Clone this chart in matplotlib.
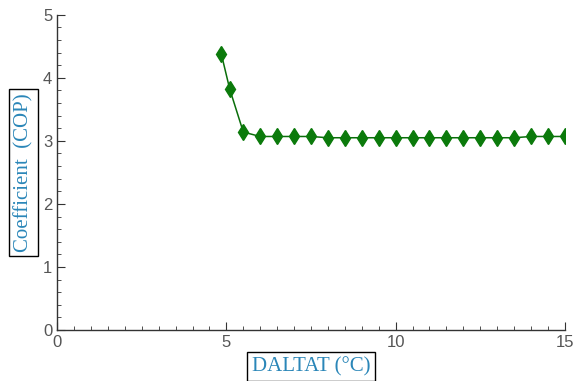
import matplotlib
matplotlib.use('Agg')
import matplotlib.pyplot as plt
from matplotlib.ticker import MultipleLocator

# 数据
daltat = [4.85, 5.1, 5.5, 6.0, 6.5, 7.0, 7.5, 8.0, 8.5, 9.0, 9.5, 10.0, 10.5,
          11.0, 11.5, 12.0, 12.5, 13.0, 13.5, 14.0, 14.5, 15.0]
cop = [4.38, 3.82, 3.14, 3.07, 3.07, 3.07, 3.07, 3.05, 3.05, 3.05, 3.05, 3.05, 3.05,
       3.05, 3.05, 3.05, 3.05, 3.05, 3.05, 3.07, 3.07, 3.07]

fig = plt.figure(figsize=(5.77, 3.81), dpi=100)
ax = fig.add_axes([0.099, 0.134, 0.880, 0.827])

ax.plot(daltat, cop, color='#0a6e0a', lw=1.1, marker='d', markersize=8,
        markerfacecolor='#0b7a0b', markeredgecolor='#0b7a0b')

ax.set_xlim(0, 15)
ax.set_ylim(0, 5)
ax.xaxis.set_major_locator(MultipleLocator(5))
ax.xaxis.set_minor_locator(MultipleLocator(0.5))
ax.yaxis.set_major_locator(MultipleLocator(1))
ax.yaxis.set_minor_locator(MultipleLocator(0.2))

for s in ['top', 'right']:
    ax.spines[s].set_visible(False)
for s in ['left', 'bottom']:
    ax.spines[s].set_color('#333333')
    ax.spines[s].set_linewidth(1.0)

ax.tick_params(which='both', direction='in', colors='#333333', labelcolor='#555555',
               labelsize=12)
ax.tick_params(which='major', length=6)
ax.tick_params(which='minor', length=3)
for lab in ax.get_xticklabels() + ax.get_yticklabels():
    lab.set_fontfamily('Liberation Sans')

box = dict(boxstyle='square,pad=0.22', facecolor='white', edgecolor='black', lw=1)
ax.set_xlabel('DALTAT (°C)', fontfamily='Liberation Serif', fontsize=15,
              color='#2a86b8', bbox=box, labelpad=5)
ax.set_ylabel('Coefficient  (COP)', fontfamily='Liberation Serif', fontsize=15,
              color='#2a86b8', bbox=box, labelpad=7)

plt.savefig('out.png', dpi=100)
